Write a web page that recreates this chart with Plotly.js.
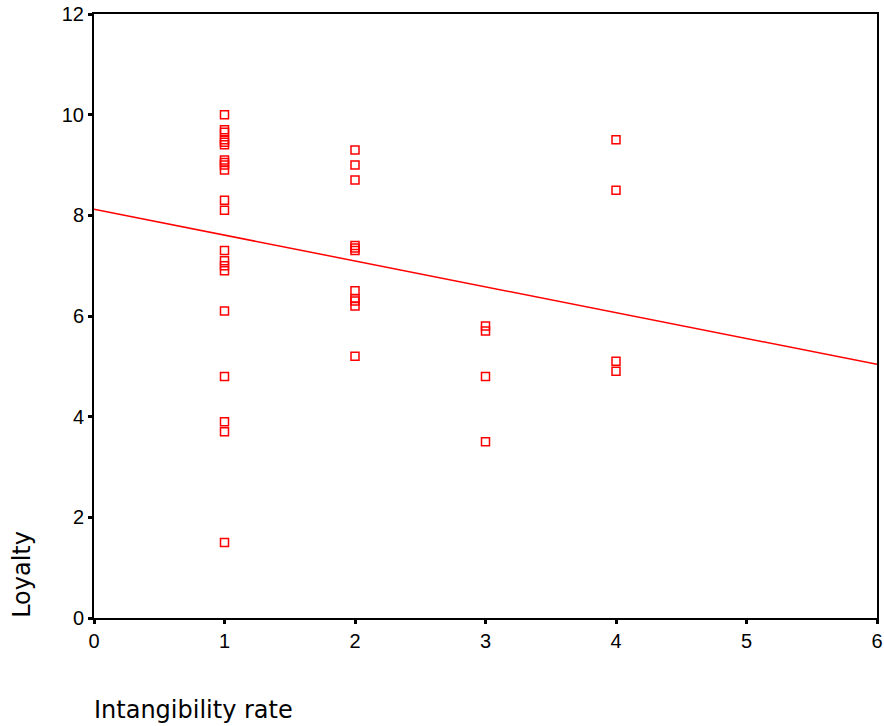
<!DOCTYPE html>
<html>
<head>
<meta charset="utf-8">
<script src="https://cdn.plot.ly/plotly-3.0.1.min.js"></script>
<style>html,body{margin:0;padding:0;background:#fff;}#chart{width:884px;height:726px;}</style>
</head>
<body>
<div id="chart"></div>
<script>
// Observed data points (Intangibility rate vs Loyalty)
const x1 = [1,1,1,1,1,1,1,1,1,1,1,1,1,1,1,1,1,1,1,1,1];
const y1 = [10.0,9.7,9.65,9.5,9.45,9.4,9.1,9.05,9.0,8.9,8.3,8.1,7.3,7.1,7.0,6.9,6.1,4.8,3.9,3.7,1.5];
const x2 = [2,2,2,2,2,2,2,2,2,2,2];
const y2 = [9.3,9.0,8.7,7.4,7.35,7.3,6.5,6.35,6.3,6.2,5.2];
const x3 = [3,3,3,3];
const y3 = [5.8,5.7,4.8,3.5];
const x4 = [4,4,4,4];
const y4 = [9.5,8.5,5.1,4.9];
// Fitted regression line endpoints
const fitX = [0, 6];
const fitY = [8.12, 5.04];
const xTicks = [0,1,2,3,4,5,6];
const yTicks = [0,2,4,6,8,10,12];
const xLabel = "Intangibility rate";
const yLabel = "Loyalty";

const xs = [].concat(x1, x2, x3, x4);
const ys = [].concat(y1, y2, y3, y4);

const traces = [
  {x: fitX, y: fitY, mode: 'lines', line: {color: '#ff0000', width: 1.5}, hoverinfo: 'skip', cliponaxis: true},
  {x: xs, y: ys, mode: 'markers', marker: {symbol: 'square-open', size: 8, color: '#ff0000', line: {width: 1.5, color: '#ff0000'}}, cliponaxis: false}
];

const axisCommon = {
  showgrid: false, zeroline: false,
  showline: true, linecolor: '#000', linewidth: 2, mirror: true,
  ticks: 'outside', ticklen: 4, tickwidth: 3, tickcolor: '#000',
  tickfont: {family: 'Liberation Sans, Arial, sans-serif', size: 20, color: '#000'}
};

const titleFont = {family: 'DejaVu Sans, sans-serif', size: 24, color: '#000'};

const layout = {
  width: 884, height: 726,
  margin: {l: 94, r: 7, t: 14, b: 108},
  paper_bgcolor: '#fff', plot_bgcolor: '#fff',
  showlegend: false,
  xaxis: Object.assign({}, axisCommon, {range: [0, 6], tickvals: xTicks, ticktext: xTicks.map(String)}),
  yaxis: Object.assign({}, axisCommon, {range: [0, 12], tickvals: yTicks, ticktext: yTicks.map(String)}),
  annotations: [
    {text: yLabel, xref: 'paper', yref: 'paper', x: -0.092, y: 0.073, textangle: -90, showarrow: false,
     xanchor: 'center', yanchor: 'middle', font: titleFont},
    {text: xLabel, xref: 'paper', yref: 'paper', x: -0.003, y: -0.152, showarrow: false,
     xanchor: 'left', yanchor: 'middle', font: titleFont}
  ]
};

Plotly.newPlot('chart', traces, layout, {displayModeBar: false, staticPlot: true});
</script>
</body>
</html>
